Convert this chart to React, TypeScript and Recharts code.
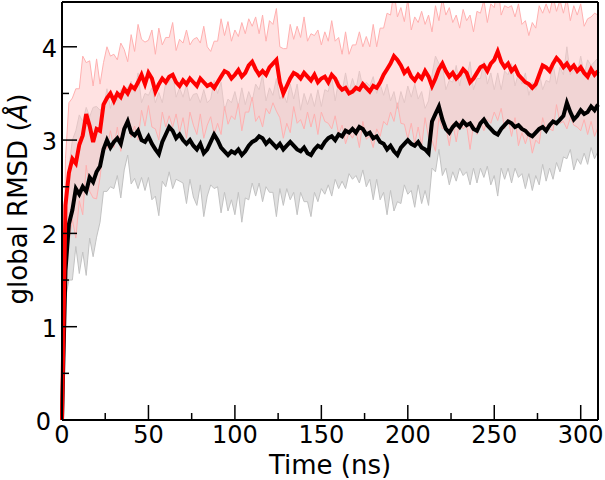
import React from "react";
import {
  ComposedChart,
  Line,
  Area,
  XAxis,
  YAxis,
  ReferenceLine,
} from "recharts";

// sampling interval of the traces (ns)
const timeStep = 2;

// mean global RMSD, red system (Å), one value every 2 ns from t = 0
const redMean = [
  0, 2.3, 2.65, 2.8, 2.75, 2.95, 3.05, 3.28, 3.15, 2.98,
  3.12, 3.1, 3.38, 3.45, 3.5, 3.42, 3.5, 3.46, 3.55, 3.5,
  3.58, 3.55, 3.62, 3.7, 3.6, 3.72, 3.66, 3.52, 3.6, 3.66,
  3.62, 3.68, 3.7, 3.62, 3.58, 3.64, 3.6, 3.66, 3.62, 3.58,
  3.66, 3.62, 3.58, 3.6, 3.56, 3.62, 3.68, 3.74, 3.72, 3.66,
  3.7, 3.75, 3.68, 3.72, 3.8, 3.84, 3.76, 3.7, 3.74, 3.7,
  3.78, 3.82, 3.86, 3.62, 3.5, 3.58, 3.66, 3.72, 3.7, 3.66,
  3.72, 3.68, 3.64, 3.7, 3.62, 3.66, 3.68, 3.62, 3.7, 3.66,
  3.58, 3.54, 3.56, 3.5, 3.52, 3.56, 3.54, 3.6, 3.56, 3.52,
  3.58, 3.56, 3.62, 3.7, 3.76, 3.82, 3.9, 3.86, 3.8, 3.72,
  3.76, 3.68, 3.64, 3.7, 3.66, 3.74, 3.68, 3.58, 3.66, 3.76,
  3.82, 3.74, 3.68, 3.72, 3.66, 3.7, 3.76, 3.72, 3.62, 3.66,
  3.72, 3.78, 3.8, 3.74, 3.82, 3.86, 3.95, 3.84, 3.78, 3.82,
  3.74, 3.78, 3.7, 3.66, 3.62, 3.6, 3.56, 3.6, 3.7, 3.8,
  3.78, 3.74, 3.82, 3.88, 3.84, 3.78, 3.82, 3.76, 3.8, 3.74,
  3.78, 3.72, 3.68, 3.76, 3.7, 3.74,
];

// spread around the red mean
const redSd = [
  0, 0.5, 0.75, 0.65, 0.8, 0.6, 0.85, 0.55, 0.7, 0.6,
  0.75, 0.5, 0.45, 0.55, 0.4, 0.5, 0.36, 0.58, 0.42, 0.34,
  0.55, 0.4, 0.62, 0.38, 0.45, 0.35, 0.52, 0.4, 0.6, 0.36,
  0.48, 0.42, 0.56, 0.34, 0.5, 0.4, 0.58, 0.36, 0.46, 0.52,
  0.38, 0.6, 0.42, 0.35, 0.5, 0.44, 0.62, 0.38, 0.55, 0.4,
  0.48, 0.36, 0.58, 0.42, 0.5, 0.38, 0.56, 0.44, 0.6, 0.36,
  0.5, 0.42, 0.55, 0.38, 0.48, 0.4, 0.58, 0.36, 0.52, 0.44,
  0.6, 0.38, 0.5, 0.42, 0.56, 0.36, 0.48, 0.44, 0.58, 0.4,
  0.52, 0.38, 0.6, 0.42, 0.5, 0.46, 0.62, 0.4, 0.55, 0.48,
  0.66, 0.44, 0.58, 0.5, 0.6, 0.52, 0.7, 0.46, 0.62, 0.55,
  0.75, 0.5, 0.68, 0.56, 0.72, 0.5, 0.66, 0.58, 0.78, 0.52,
  0.7, 0.6, 0.74, 0.54, 0.68, 0.5, 0.64, 0.56, 0.72, 0.5,
  0.66, 0.58, 0.7, 0.52, 0.64, 0.56, 0.74, 0.5, 0.66, 0.6,
  0.7, 0.54, 0.76, 0.58, 0.66, 0.52, 0.7, 0.6, 0.74, 0.56,
  0.68, 0.62, 0.72, 0.5, 0.66, 0.58, 0.7, 0.52, 0.64, 0.6,
  0.68, 0.5, 0.62, 0.56, 0.66, 0.6,
];

// mean global RMSD, black system (Å)
const blackMean = [
  0, 1.6, 2.1, 2.25, 2.48, 2.42, 2.5, 2.45, 2.6, 2.55,
  2.66, 2.72, 2.9, 3.0, 2.92, 2.98, 3.02, 2.96, 3.12, 3.2,
  3.08, 3.05, 3.1, 3.0, 2.98, 3.04, 2.96, 2.9, 2.85, 2.98,
  3.06, 3.14, 3.1, 3.02, 3.06, 3.0, 2.96, 3.0, 2.94, 2.9,
  2.96, 2.86, 2.9, 2.98, 3.06, 3.0, 2.92, 2.88, 2.84, 2.88,
  2.86, 2.9, 2.84, 2.88, 2.94, 2.98, 3.0, 3.04, 3.02, 2.96,
  3.0, 2.96, 2.92, 2.96, 2.9, 2.94, 2.98, 2.94, 2.9, 2.88,
  2.92, 2.86, 2.84, 2.9, 2.94, 2.92, 2.98, 3.02, 3.04, 3.0,
  3.06, 3.04, 3.1, 3.08, 3.12, 3.08, 3.14, 3.12, 3.06, 3.08,
  3.02, 3.04, 2.98, 2.96, 2.9, 2.94, 2.88, 2.84, 2.92, 2.96,
  3.0, 2.96, 2.94, 2.98, 2.92, 2.9, 2.86, 3.2, 3.28, 3.36,
  3.22, 3.12, 3.08, 3.14, 3.18, 3.14, 3.2, 3.16, 3.18, 3.12,
  3.1, 3.18, 3.22, 3.16, 3.12, 3.08, 3.06, 3.12, 3.16, 3.2,
  3.18, 3.14, 3.16, 3.12, 3.1, 3.06, 3.04, 3.08, 3.12, 3.14,
  3.1, 3.16, 3.2, 3.18, 3.22, 3.26, 3.4, 3.3, 3.22, 3.26,
  3.32, 3.28, 3.3, 3.36, 3.32, 3.38,
];

// spread around the black mean
const blackSd = [
  0, 0.3, 0.6, 0.75, 0.62, 0.85, 0.7, 0.9, 0.65, 0.8,
  0.7, 0.6, 0.45, 0.55, 0.42, 0.5, 0.4, 0.58, 0.44, 0.36,
  0.55, 0.46, 0.62, 0.4, 0.52, 0.44, 0.6, 0.5, 0.66, 0.42,
  0.56, 0.48, 0.62, 0.44, 0.5, 0.46, 0.64, 0.42, 0.55, 0.6,
  0.44, 0.68, 0.5, 0.46, 0.58, 0.5, 0.7, 0.44, 0.6, 0.52,
  0.66, 0.46, 0.72, 0.5, 0.58, 0.44, 0.6, 0.5, 0.68, 0.46,
  0.56, 0.52, 0.74, 0.48, 0.6, 0.46, 0.62, 0.5, 0.7, 0.44,
  0.58, 0.52, 0.66, 0.46, 0.6, 0.44, 0.56, 0.5, 0.64, 0.42,
  0.58, 0.48, 0.62, 0.44, 0.54, 0.46, 0.6, 0.44, 0.56, 0.5,
  0.66, 0.46, 0.62, 0.52, 0.7, 0.48, 0.64, 0.5, 0.6, 0.44,
  0.58, 0.5, 0.66, 0.46, 0.6, 0.44, 0.56, 0.5, 0.62, 0.46,
  0.6, 0.42, 0.56, 0.48, 0.62, 0.44, 0.58, 0.5, 0.66, 0.42,
  0.56, 0.48, 0.62, 0.44, 0.6, 0.46, 0.66, 0.42, 0.58, 0.5,
  0.64, 0.44, 0.56, 0.48, 0.62, 0.42, 0.58, 0.46, 0.6, 0.4,
  0.54, 0.46, 0.62, 0.42, 0.56, 0.44, 0.6, 0.4, 0.54, 0.46,
  0.58, 0.42, 0.56, 0.44, 0.52, 0.5,
];

const xTicks = [0, 25, 50, 75, 100, 125, 150, 175, 200, 225, 250, 275, 300];
const yTicks = [0, 0.5, 1, 1.5, 2, 2.5, 3, 3.5, 4];
const xMax = 310;
const yMax = 4.48;

const data = redMean.map((r, i) => ({
  t: i * timeStep,
  red: r,
  black: blackMean[i],
  redBand: [r - redSd[i], r + redSd[i]],
  blackBand: [blackMean[i] - blackSd[i], blackMean[i] + blackSd[i]],
}));

const font = "DejaVu Sans";

const XTick = (props: any) => {
  const { x, y, payload } = props;
  const major = payload.value % 50 === 0;
  return (
    <g>
      <line x1={x} y1={y} x2={x} y2={y - (major ? 15 : 7)} stroke="#000" strokeWidth={1.5} />
      {major && (
        <text x={x} y={y + 23} textAnchor="middle" fontFamily={font} fontSize={24} fill="#000">
          {payload.value}
        </text>
      )}
    </g>
  );
};

const YTick = (props: any) => {
  const { x, y, payload } = props;
  const major = payload.value % 1 === 0;
  return (
    <g>
      <line x1={x} y1={y} x2={x + (major ? 15 : 7)} y2={y} stroke="#000" strokeWidth={1.5} />
      {major && (
        <text
          x={payload.value === 0 ? x - 11 : x - 5}
          y={y + 10}
          textAnchor="end"
          fontFamily={font}
          fontSize={24}
          fill="#000"
        >
          {payload.value}
        </text>
      )}
    </g>
  );
};

export default function App() {
  return (
    <div style={{ position: "absolute", left: 0, top: 0, background: "#fff" }}>
      <ComposedChart
        width={605}
        height={480}
        data={data}
        margin={{ top: 2, right: 7, bottom: 0, left: 0 }}
      >
        <XAxis
          dataKey="t"
          type="number"
          domain={[0, xMax]}
          ticks={xTicks}
          interval={0}
          tick={<XTick />}
          tickLine={false}
          tickSize={0}
          tickMargin={0}
          height={60}
          axisLine={{ stroke: "#000", strokeWidth: 2 }}
          label={{
            content: () => (
              <text x={330} y={474} textAnchor="middle" fontFamily={font} fontSize={26} fill="#000">
                Time (ns)
              </text>
            ),
          }}
        />
        <YAxis
          type="number"
          domain={[0, yMax]}
          allowDataOverflow
          ticks={yTicks}
          interval={0}
          tick={<YTick />}
          tickLine={false}
          tickSize={0}
          tickMargin={0}
          width={62}
          axisLine={{ stroke: "#000", strokeWidth: 2 }}
          label={{
            content: () => (
              <text
                x={27}
                y={199}
                transform="rotate(-90, 27, 199)"
                textAnchor="middle"
                fontFamily={font}
                fontSize={26}
                fill="#000"
              >
                global RMSD (<tspan fontStyle="italic">Å</tspan>)
              </text>
            ),
          }}
        />
        <Area
          dataKey="blackBand"
          type="linear"
          stroke="#c2c2c2"
          strokeWidth={1}
          fill="#d6d6d6"
          fillOpacity={0.75}
          isAnimationActive={false}
        />
        <Area
          dataKey="redBand"
          type="linear"
          stroke="#ffb0b0"
          strokeWidth={1}
          fill="#ffcaca"
          fillOpacity={0.55}
          isAnimationActive={false}
        />
        <Line dataKey="black" type="linear" stroke="#000" strokeWidth={4} dot={false} isAnimationActive={false} />
        <Line dataKey="red" type="linear" stroke="#ff0000" strokeWidth={4} dot={false} isAnimationActive={false} />
        <ReferenceLine y={yMax} stroke="#000" strokeWidth={2} />
        <ReferenceLine x={xMax} stroke="#000" strokeWidth={2} />
      </ComposedChart>
    </div>
  );
}
